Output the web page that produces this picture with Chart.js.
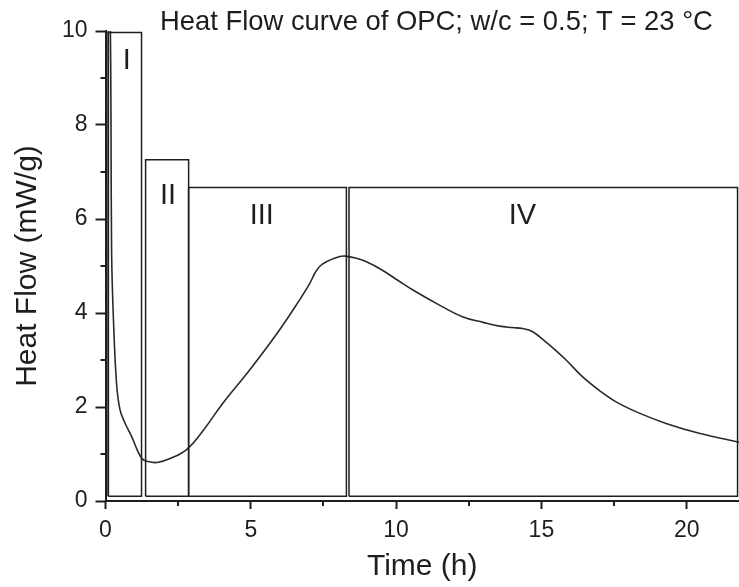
<!DOCTYPE html>
<html>
<head>
<meta charset="utf-8">
<script src="https://cdn.jsdelivr.net/npm/chart.js@4.4.1/dist/chart.umd.min.js"></script>
<style>
html,body{margin:0;padding:0;background:#fff;}
#wrap{width:739px;height:587px;}
</style>
</head>
<body>
<div id="wrap"><canvas id="c" width="739" height="587"></canvas></div>
<script>
// ---- data ----
const timeH = [0.09, 0.1, 0.16, 0.19, 0.21, 0.27, 0.38, 0.5, 0.67, 0.9, 1.24, 1.47, 1.78, 2.2, 2.8, 3.42, 4.0, 5.0, 6.0, 6.68, 7.03, 7.2, 7.37, 7.6, 8.06, 8.25, 8.6, 8.98, 9.5, 10.12, 10.58, 11.4, 12.28, 13.0, 13.56, 14.0, 14.35, 14.7, 15.16, 15.5, 15.85, 16.42, 17.0, 17.57, 18.37, 19.29, 20.43, 21.8];
const heatFlow = [0.1, 12.0, 10.5, 8.0, 5.3, 3.92, 2.5, 1.94, 1.66, 1.37, 0.91, 0.84, 0.82, 0.9, 1.1, 1.55, 2.05, 2.82, 3.65, 4.28, 4.63, 4.84, 4.99, 5.09, 5.2, 5.21, 5.17, 5.09, 4.92, 4.67, 4.49, 4.2, 3.92, 3.8, 3.72, 3.69, 3.67, 3.6, 3.38, 3.2, 3.0, 2.64, 2.35, 2.11, 1.87, 1.65, 1.44, 1.25];

const boxLeft  = [0.1, 1.38, 2.86, 8.38];
const boxRight = [1.24, 2.86, 8.29, 21.75];
const boxTop   = [9.97, 7.26, 6.67, 6.67];
const boxBase  = [0.1, 0.1, 0.1, 0.1];
const regionNames  = ['I', 'II', 'III', 'IV'];
const regionLabelX = [0.73, 2.15, 5.38, 14.35];
const regionLabelY = [9.36, 6.49, 6.07, 6.07];

const xMajorTicks = [0, 5, 10, 15, 20];
const xMinorTicks = [2.5, 7.5, 12.5, 17.5];
const yMajorTicks = [0, 2, 4, 6, 8, 10];
const yMinorTicks = [1, 3, 5, 7, 9];

const titleText = 'Heat Flow curve of OPC; w/c = 0.5; T = 23 °C';
const xTitle = 'Time (h)';
const yTitle = 'Heat Flow (mW/g)';

// ---- build datasets ----
const FONT = '"Liberation Sans", Arial, sans-serif';
const INK = '#1e1e1e';

const curveData = timeH.map((t, i) => ({x: t, y: heatFlow[i]}));
const boxDatasets = boxLeft.map((l, i) => ({
  label: 'region ' + regionNames[i],
  data: [
    {x: l, y: boxBase[i]},
    {x: l, y: boxTop[i]},
    {x: boxRight[i], y: boxTop[i]},
    {x: boxRight[i], y: boxBase[i]},
    {x: l, y: boxBase[i]}
  ],
  borderColor: INK,
  borderWidth: 1.5,
  pointRadius: 0,
  tension: 0,
  fill: false
}));

const extras = {
  id: 'extras',
  afterDraw(chart) {
    const ctx = chart.ctx;
    const xs = chart.scales.x, ys = chart.scales.y;
    const area = chart.chartArea;
    ctx.save();
    // minor ticks
    ctx.strokeStyle = INK;
    ctx.lineWidth = 2;
    ctx.beginPath();
    xMinorTicks.forEach(v => {
      const px = Math.round(xs.getPixelForValue(v));
      ctx.moveTo(px, area.bottom);
      ctx.lineTo(px, area.bottom + 5);
    });
    yMinorTicks.forEach(v => {
      const py = Math.round(ys.getPixelForValue(v));
      ctx.moveTo(area.left, py);
      ctx.lineTo(area.left - 5, py);
    });
    ctx.stroke();
    // region labels
    ctx.fillStyle = INK;
    ctx.font = '29px ' + FONT;
    ctx.textAlign = 'center';
    ctx.textBaseline = 'middle';
    regionNames.forEach((n, i) => {
      ctx.fillText(n, xs.getPixelForValue(regionLabelX[i]), ys.getPixelForValue(regionLabelY[i]));
    });
    // title
    ctx.font = '27.4px ' + FONT;
    ctx.textAlign = 'left';
    ctx.textBaseline = 'alphabetic';
    ctx.fillText(titleText, 160, 30);
    ctx.restore();
  }
};

new Chart(document.getElementById('c'), {
  type: 'line',
  data: {
    datasets: [
      ...boxDatasets,
      {
        label: 'Heat flow',
        data: curveData,
        borderColor: '#2a2a2a',
        borderWidth: 1.6,
        pointRadius: 0,
        tension: 0.4,
        fill: false
      }
    ]
  },
  options: {
    responsive: false,
    devicePixelRatio: 1,
    animation: false,
    layout: {padding: {top: 31, left: 0, right: 0, bottom: 0}},
    plugins: {legend: {display: false}, tooltip: {enabled: false}, title: {display: false}},
    scales: {
      x: {
        type: 'linear',
        min: 0, max: 21.8,
        border: {color: INK, width: 2},
        grid: {drawOnChartArea: false, drawTicks: true, tickLength: 8, tickColor: INK, tickWidth: 2},
        afterBuildTicks: s => { s.ticks = xMajorTicks.map(v => ({value: v})); },
        ticks: {font: {size: 23, family: FONT}, color: INK, padding: 8, maxRotation: 0},
        title: {display: true, text: xTitle, font: {size: 30, family: FONT}, color: INK, padding: {top: 0, bottom: 2}},
        afterFit: s => { s.height = 86; }
      },
      y: {
        type: 'linear',
        min: 0, max: 10,
        border: {color: INK, width: 2},
        grid: {drawOnChartArea: false, drawTicks: true, tickLength: 10, tickColor: INK, tickWidth: 2},
        afterBuildTicks: s => { s.ticks = yMajorTicks.map(v => ({value: v})); },
        ticks: {font: {size: 23, family: FONT}, color: INK, padding: 8},
        title: {display: true, text: yTitle, font: {size: 30, family: FONT}, color: INK, padding: {top: 10, bottom: 0}},
        afterFit: s => { s.width = 105.5; }
      }
    }
  },
  plugins: [extras]
});
</script>
</body>
</html>
